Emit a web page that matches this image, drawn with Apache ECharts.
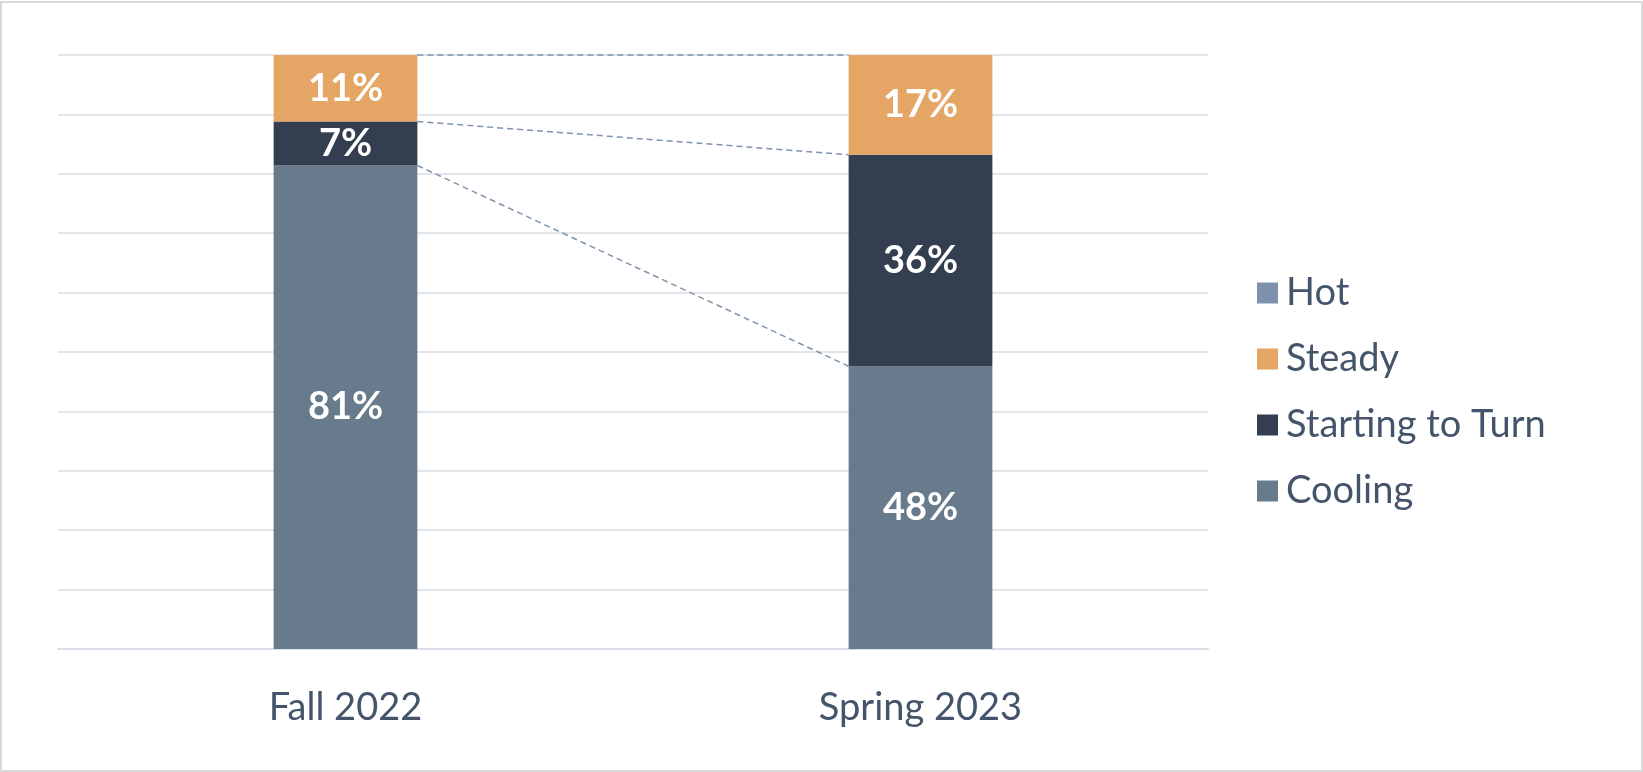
<!DOCTYPE html>
<html>
<head>
<meta charset="utf-8">
<script src="https://cdn.jsdelivr.net/npm/echarts@6/dist/echarts.min.js"></script>
<style>
html,body{margin:0;padding:0;background:#fff;}
#frame{position:absolute;left:0;top:1px;width:1643px;height:771px;box-sizing:border-box;border:2px solid #d9d9d9;}
#chart{position:absolute;left:0;top:0;width:1643px;height:772px;}
</style>
</head>
<body>
<div id="frame"></div>
<div id="chart"></div>
<script>
const categories = ['Fall 2022', 'Spring 2023'];
const hot = [0, 0];
const cooling = [81.4, 47.6];
const startingToTurn = [7.4, 35.6];
const steady = [11.2, 16.8];
const yTicks = { min: 0, max: 100, interval: 10 };

const textColor = '#44546A';
const font = 'Lato';

const chart = echarts.init(document.getElementById('chart'), null, { renderer: 'canvas' });

function lbl() {
  return {
    show: true,
    position: 'inside',
    color: '#fff',
    fontWeight: 'bold',
    fontSize: 38,
    fontFamily: font,
    formatter: p => p.value > 0 ? Math.round(p.value) + '%' : ''
  };
}

const bound1 = cooling.map((v, i) => v);
const bound2 = cooling.map((v, i) => v + startingToTurn[i]);
const bound3 = cooling.map((v, i) => v + startingToTurn[i] + steady[i]);

const option = {
  animation: false,
  grid: { left: 58, right: 435, top: 55, bottom: 123 },
  legend: {
    orient: 'vertical',
    left: 1252,
    top: 269,
    itemWidth: 21,
    itemHeight: 21,
    itemGap: 28,
    icon: 'rect',
    textStyle: { color: textColor, fontSize: 38, lineHeight: 38, fontFamily: font, padding: [0, 0, 0, 3] },
    data: ['Hot', 'Steady', 'Starting to Turn', 'Cooling']
  },
  xAxis: {
    type: 'category',
    data: categories,
    axisLine: { lineStyle: { color: '#D9DEE6', width: 2 } },
    axisTick: { show: false },
    axisLabel: { color: textColor, fontSize: 38, fontFamily: font, margin: 40 }
  },
  yAxis: {
    type: 'value',
    min: yTicks.min, max: yTicks.max, interval: yTicks.interval,
    axisLabel: { show: false },
    axisLine: { show: false },
    axisTick: { show: false },
    splitLine: { lineStyle: { color: '#E2E6EC', width: 2 } }
  },
  series: [
    { name: 'Cooling', type: 'bar', stack: 's', data: cooling, barWidth: '25%', itemStyle: { color: '#677B8D' }, label: lbl(), z: 3 },
    { name: 'Starting to Turn', type: 'bar', stack: 's', data: startingToTurn, itemStyle: { color: '#333F50' }, label: lbl(), z: 3 },
    { name: 'Steady', type: 'bar', stack: 's', data: steady, itemStyle: { color: '#E5A564' }, label: lbl(), z: 3 },
    { name: 'Hot', type: 'bar', stack: 's', data: hot, itemStyle: { color: '#7F91AE' }, label: { show: false }, z: 3 },
    {
      name: 'seriesLines',
      type: 'custom',
      silent: true,
      z: 4,
      data: [[0, 0]],
      renderItem: function (params, api) {
        const bw = api.size([1, 0])[0] * 0.25 / 2;
        const lines = [];
        [bound1, bound2, bound3].forEach(b => {
          const p0 = api.coord([0, b[0]]);
          const p1 = api.coord([1, b[1]]);
          lines.push({
            type: 'line',
            shape: { x1: p0[0] + bw, y1: p0[1], x2: p1[0] - bw, y2: p1[1] },
            style: { stroke: '#7F93AE', lineWidth: 1.5, lineDash: [6, 4] }
          });
        });
        return { type: 'group', children: lines };
      }
    }
  ]
};
chart.setOption(option);
</script>
</body>
</html>
